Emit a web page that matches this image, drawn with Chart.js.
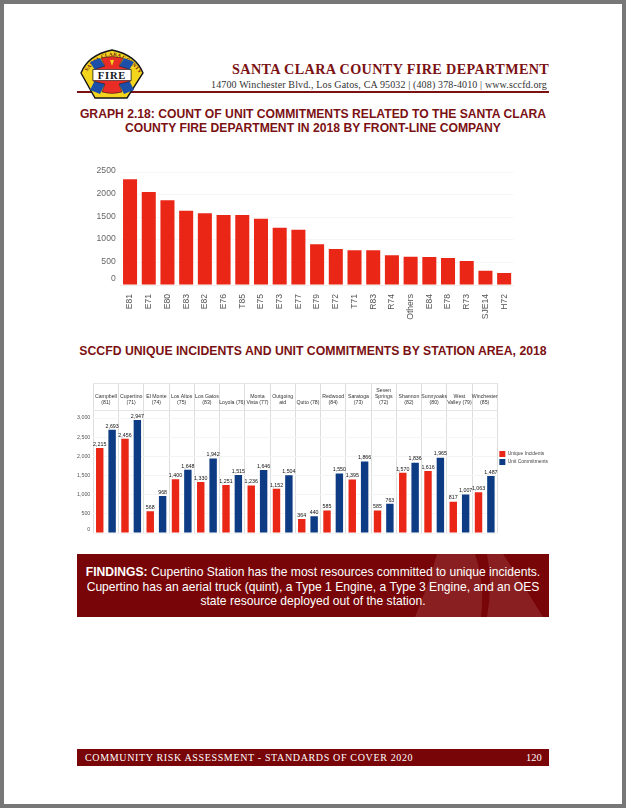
<!DOCTYPE html>
<html>
<head>
<meta charset="utf-8">
<title>Graph 2.18</title>
<script src="https://cdn.jsdelivr.net/npm/chart.js@4"></script>
<style>
  html, body { margin: 0; padding: 0; background: #fff; }
  #page { position: relative; width: 626px; height: 808px; overflow: hidden; background: #fff; font-family: "Liberation Sans", Arial, sans-serif; }
  #frame { position: absolute; left: 0; top: 0; width: 618px; height: 800px; border: 4px solid #777; }
  .abs { position: absolute; white-space: nowrap; }
  .maroon { color: #7b1113; }
  .serif { font-family: "Liberation Serif", serif; }
  .title { left: 76px; width: 474px; text-align: center; font-weight: bold; font-size: 12.17px; line-height: 14px; }
  canvas { position: absolute; }
  #findings { left: 77px; top: 554px; width: 472px; height: 63px; background: #780507; overflow: hidden; }
  #findings svg { position: absolute; left: 0; top: 0; }
  #findings div { position: absolute; left: 0; top: 11px; width: 472px; text-align: center; color: #fff; font-size: 12.1px; line-height: 14.6px; }
  #footer { left: 77px; top: 749px; width: 472px; height: 17px; background: #780507; color: #fff; font-size: 10px; line-height: 17px; }
</style>
</head>
<body>
<div id="page">
  <div id="frame"></div>

  <div class="abs" style="left:77px;top:91px;width:472px;height:2px;background:#7b1113"></div>
  <svg class="abs" style="left:74px;top:47px" width="72" height="56" viewBox="74 47 72 56">
    <defs><path id="arc" d="M85 74 Q112 38 140 74"/></defs>
    <path d="M81 73 Q88 55 112 50 Q136 55 143 73 L127 98 L95 98 Z" fill="#f4d51e" stroke="#14141a" stroke-width="1.4"/>
    <text font-family="Liberation Serif" font-weight="bold" font-size="5.2" fill="#6e1416" letter-spacing=".25"><textPath href="#arc" startOffset="3">SANTA CLARA COUNTY</textPath></text>
    <path d="M90 62 L100 58 L106 68 L96 72 Z M134 62 L124 58 L118 68 L128 72 Z M90 90 L100 94 L106 82 L96 78 Z M134 90 L124 94 L118 82 L128 78 Z" fill="#1c50a8"/>
    <path d="M101 58 Q112 55 123 58 L119 66 L131 70 L131 81 L119 84 L122 92 Q112 95 102 92 L105 84 L93 81 L93 70 L105 66 Z" fill="#e92c25" stroke="#14141a" stroke-width=".5"/>
    <path d="M110 60 L112 66 L114 60 Z" fill="#f4d51e"/>
    <rect x="93" y="69.5" width="38" height="11" fill="#fff" stroke="#14141a" stroke-width=".6"/>
    <text x="112" y="79" text-anchor="middle" font-family="Liberation Serif" font-weight="bold" font-size="10.5" fill="#14141a" letter-spacing=".8">FIRE</text>
  </svg>

  <div class="abs serif maroon" style="left:232px;top:61px;font-size:14.2px;font-weight:bold;letter-spacing:.38px">SANTA CLARA COUNTY FIRE DEPARTMENT</div>
  <div class="abs serif" style="left:211px;top:79px;font-size:10px;color:#333;letter-spacing:.14px">14700 Winchester Blvd., Los Gatos, CA 95032 | (408) 378-4010 | www.sccfd.org</div>

  <div class="abs title maroon" style="top:107px">GRAPH 2.18: COUNT OF UNIT COMMITMENTS RELATED TO THE SANTA CLARA<br>COUNTY FIRE DEPARTMENT IN 2018 BY FRONT-LINE COMPANY</div>
  <canvas id="companyChart" width="460" height="170" style="left:70px;top:160px"></canvas>

  <div class="abs title maroon" style="top:344px;font-size:12.25px">SCCFD UNIQUE INCIDENTS AND UNIT COMMITMENTS BY STATION AREA, 2018</div>
  <canvas id="stationChart" width="488" height="160" style="left:70px;top:375px"></canvas>

  <div id="findings" class="abs">
    <svg width="472" height="63">
      <path d="M338 63 Q352 30 360 0 L398 0 Q408 30 404 63 Z M410 63 Q416 30 410 0 L426 0 Q446 30 466 63 Z" fill="#8a1f22"/>
    </svg>
    <div><b>FINDINGS:</b> Cupertino Station has the most resources committed to unique incidents.<br>Cupertino has an aerial truck (quint), a Type 1 Engine, a Type 3 Engine, and an OES<br>state resource deployed out of the station.</div>
  </div>

  <div id="footer" class="abs serif">
    <span class="abs" style="left:8px;letter-spacing:.65px">COMMUNITY RISK ASSESSMENT - STANDARDS OF COVER 2020</span>
    <span class="abs" style="left:449px;font-size:10.5px">120</span>
  </div>
</div>

<script>
// unit commitments by company
const companies = ['E81','E71','E80','E83','E82','E76','T85','E75','E73','E77','E79','E72','T71','R83','R74','Others','E84','E78','R73','SJE14','H72'];
const commitments = [2338,2057,1873,1645,1585,1549,1549,1467,1268,1224,900,796,767,767,656,627,620,597,531,317,265];
const companyTicks = [0,500,1000,1500,2000,2500];

// station areas
const stations = [['Campbell','(81)'],['Cupertino','(71)'],['El Monte','(74)'],['Los Altos','(75)'],['Los Gatos','(83)'],'Loyola (76)',['Monta','Vista (77)'],['Outgoing','aid'],'Quito (78)',['Redwood','(84)'],['Saratoga','(73)'],['Seven','Springs','(72)'],['Shannon','(82)'],['Sunnyoaks','(80)'],['West','Valley (79)'],['Winchester','(85)']];
const uniqueIncidents = [2215,2456,568,1400,1330,1251,1236,1152,364,585,1395,585,1570,1616,817,1063];
const unitCommitments = [2693,2947,968,1648,1942,1515,1646,1504,440,1550,1866,763,1836,1965,1007,1487];
const stationTicks = [0,500,1000,1500,2000,2500,3000];

const RED = '#ea2617';
const BLUE = '#0d3c84';
Chart.defaults.font.family = '"Liberation Sans", Arial, sans-serif';
Chart.defaults.animation = false;
Chart.defaults.responsive = false;

// the zero label sits a bit above the axis in the original
function zeroUp(fmt) {
  return function(value) {
    const txt = fmt(value);
    return value === 0 ? [txt, ''] : txt;
  };
}

// fixed axis width, and no extra room for overhanging labels
function pinWidth(w) {
  return function(scale) {
    scale.width = w;
    scale.paddingTop = 0;
    scale.paddingBottom = 0;
  };
}

new Chart(document.getElementById('companyChart'), {
  type: 'bar',
  data: {
    labels: companies,
    datasets: [{ data: commitments, backgroundColor: RED, barPercentage: 0.75, categoryPercentage: 1 }]
  },
  options: {
    layout: { padding: { top: 12, right: 16.5 } },
    plugins: { legend: { display: false }, tooltip: { enabled: false } },
    scales: {
      x: {
        grid: { display: false },
        border: { color: '#eeeeee' },
        ticks: { color: '#555', font: { size: 8.6 }, minRotation: 90, maxRotation: 90, autoSkip: false, padding: 1 },
        afterFit: function(scale) { scale.height = 45; }
      },
      y: {
        min: 0,
        max: 2500,
        grid: { color: '#f6f6f6', drawTicks: false },
        border: { display: false },
        ticks: { color: '#666', font: { size: 8.6 }, padding: 5, labelOffset: -1, autoSkip: false, callback: zeroUp(function(v) { return String(v); }) },
        afterBuildTicks: function(scale) { scale.ticks = companyTicks.map(function(v) { return { value: v }; }); },
        afterFit: pinWidth(50.7)
      }
    }
  }
});

// values above the bars + top edge of the header band
const stationExtras = {
  id: 'stationExtras',
  beforeDatasetsDraw(chart) {
    const c = chart.ctx, x = chart.scales.x;
    c.save();
    c.strokeStyle = '#e6e6e6';
    c.lineWidth = 1;
    c.beginPath();
    c.moveTo(x.left, x.top + 0.5);
    c.lineTo(x.right, x.top + 0.5);
    c.stroke();
    c.restore();
  },
  afterDatasetsDraw(chart) {
    const c = chart.ctx;
    c.save();
    c.font = '5.3px "Liberation Sans"';
    c.fillStyle = '#111';
    c.textAlign = 'center';
    c.textBaseline = 'bottom';
    chart.data.datasets.forEach(function(ds, i) {
      chart.getDatasetMeta(i).data.forEach(function(bar, j) {
        c.fillText(ds.data[j].toLocaleString('en-US'), bar.x, bar.y - 1);
      });
    });
    c.restore();
  }
};

new Chart(document.getElementById('stationChart'), {
  type: 'bar',
  data: {
    labels: stations,
    datasets: [
      { label: 'Unique Incidents', data: uniqueIncidents, backgroundColor: RED, barPercentage: 0.6, categoryPercentage: 0.98 },
      { label: 'Unit Commitments', data: unitCommitments, backgroundColor: BLUE, barPercentage: 0.6, categoryPercentage: 0.98 }
    ]
  },
  options: {
    layout: { padding: { top: 8, bottom: 2 } },
    plugins: {
      tooltip: { enabled: false },
      legend: {
        position: 'right',
        labels: { boxWidth: 6, boxHeight: 6, padding: 2, color: '#444', font: { size: 4.9 } }
      }
    },
    scales: {
      x: {
        position: 'top',
        grid: { color: '#dddddd', tickColor: '#dddddd', tickLength: 27 },
        border: { color: '#e6e6e6' },
        ticks: { color: '#333', font: { size: 5.2 }, maxRotation: 0, minRotation: 0, autoSkip: false, padding: -23 },
        afterFit: function(scale) { scale.height = 27; scale.paddingLeft = 0; scale.paddingRight = 0; }
      },
      y: {
        min: 0,
        max: 3209,
        grid: { color: '#f4f4f4', drawTicks: false },
        border: { display: false },
        ticks: { color: '#555', font: { size: 5.3 }, padding: 3, autoSkip: false, callback: zeroUp(function(v) { return v.toLocaleString('en-US'); }) },
        afterBuildTicks: function(scale) { scale.ticks = stationTicks.map(function(v) { return { value: v }; }); },
        afterFit: pinWidth(23.3)
      }
    }
  },
  plugins: [stationExtras]
});
</script>
</body>
</html>
